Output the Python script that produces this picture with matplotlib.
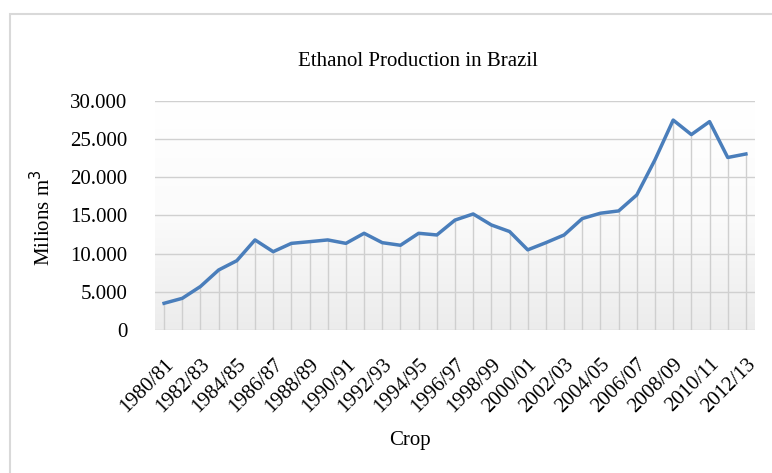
import matplotlib.pyplot as plt
import numpy as np
from matplotlib.patches import Rectangle

# safras 1980/81 .. 2012/13
crops = ['%d/%02d' % (y, (y + 1) % 100) for y in range(1980, 2013)]
production = [3.5, 4.15, 5.7, 7.86, 9.08, 11.8, 10.26, 11.35, 11.57, 11.8,
              11.35, 12.67, 11.44, 11.1, 12.67, 12.45, 14.4, 15.2, 13.76, 12.9,
              10.5, 11.44, 12.45, 14.6, 15.3, 15.6, 17.7, 22.3, 27.5, 25.6,
              27.3, 22.6, 23.06]
production = [v * 1000 for v in production]
yticks = [0, 5000, 10000, 15000, 20000, 25000, 30000]
ytick_labels = ['0', '5.000', '10.000', '15.000', '20.000', '25.000', '30.000']

plt.rcParams['font.family'] = ['Liberation Serif', 'DejaVu Serif']

fig = plt.figure(figsize=(7.72, 4.73), dpi=100)
ax = fig.add_axes([155 / 772, 1 - 330 / 473, 600 / 772, 229 / 473])

# moldura cinza do gráfico
fig.patches.append(Rectangle((10 / 772, -0.1), 1.2, 1 - 14 / 473 + 0.1,
                             transform=fig.transFigure, fill=False,
                             edgecolor='#d9d9d9', linewidth=1.5))

# fundo em degradê
grad = np.linspace(0, 1, 256).reshape(-1, 1)
ax.imshow(grad, extent=[0, 1, 0, 1], transform=ax.transAxes, aspect='auto',
          cmap=plt.matplotlib.colors.LinearSegmentedColormap.from_list(
              'g', ['#ffffff', '#fbfbfb', '#ececec']),
          origin='upper', zorder=0)

x = np.arange(len(crops))
ax.vlines(x, 0, production, color='#cfcfcf', linewidth=1, zorder=1)
for t in yticks:
    ax.axhline(t, color='#d0d0d0', linewidth=1, zorder=1)
ax.plot(x, production, color='#4a7ebb', linewidth=2.5, zorder=3)

ax.set_xlim(-0.5, len(crops) - 0.5)
ax.set_ylim(0, 30000)
ax.set_yticks(yticks)
ax.set_yticklabels(ytick_labels, fontsize=15)
ax.set_xticks(x[::2])
ax.set_xticklabels(crops[::2], rotation=45, ha='right', va='top',
                   rotation_mode='anchor', fontsize=15)
ax.tick_params(length=0)
ax.tick_params(axis='y', pad=20)
ax.tick_params(axis='x', pad=18)
for s in ax.spines.values():
    s.set_visible(False)

fig.text(418 / 772, 1 - 62 / 473, 'Ethanol Production in Brazil',
         ha='center', va='center', fontsize=15)
fig.text(43 / 772, 1 - 218 / 473, 'Milions m$^3$', rotation=90,
         ha='center', va='center', fontsize=15)
fig.text(410 / 772, 1 - 440 / 473, 'Crop', ha='center', va='center', fontsize=15)

fig.savefig('out.png', dpi=100)
